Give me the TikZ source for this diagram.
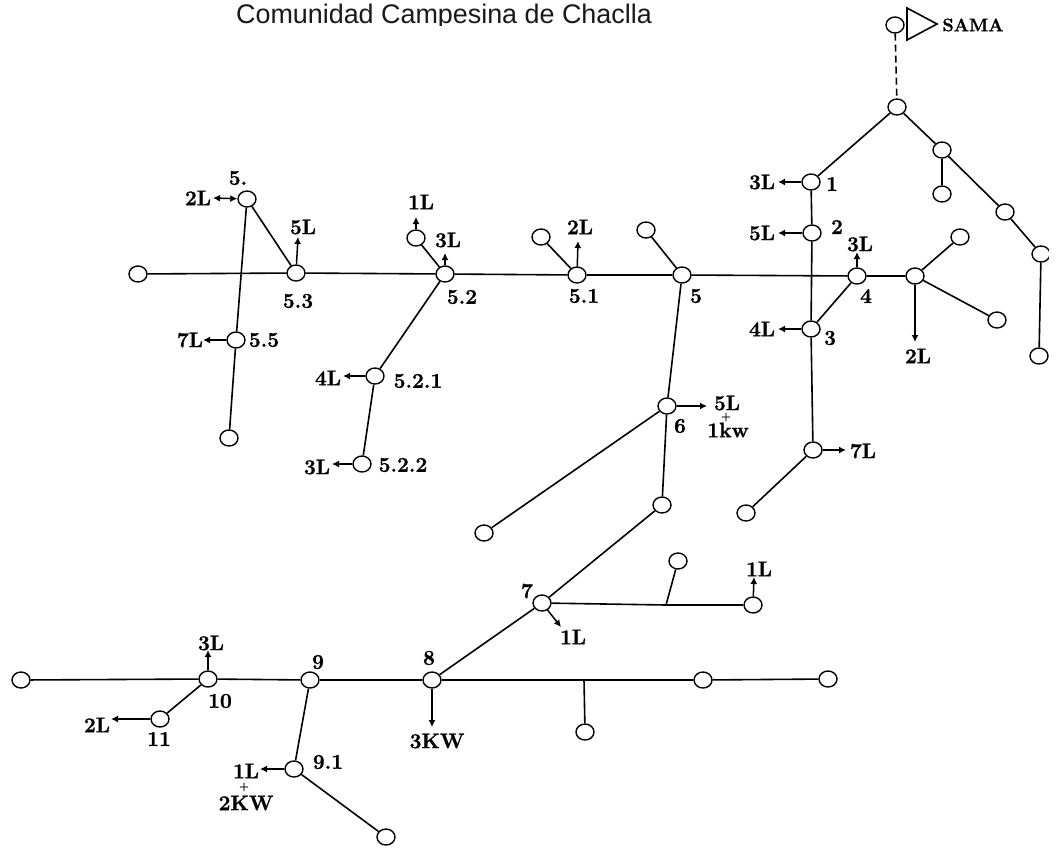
\documentclass[tikz,border=0pt]{standalone}
\usepackage{fontspec}
\setmainfont[BoldFeatures={FakeBold=1.2}]{Latin Modern Roman}
\newfontfamily\titlefont{Liberation Sans}
\usetikzlibrary{arrows.meta,shapes.geometric}
\tikzset{
  bus/.style={ellipse,draw,fill=white,inner sep=0pt,minimum width=18pt,minimum height=16pt,line width=1.4pt},
  tag/.style={inner sep=0pt,font=\fontsize{21}{23}\selectfont\bfseries},
  plus/.style={inner sep=0pt,font=\fontsize{11}{12}\selectfont\bfseries},
  load/.style={-{Latex[length=7pt,width=7pt]},line width=1.5pt}
}

\begin{document}
\begin{tikzpicture}[x=1pt,y=-1pt,line width=1.6pt]
  \useasboundingbox (0,0) rectangle (1062,847);
  \node[inner sep=0pt,font=\titlefont\fontsize{26.9}{30}\selectfont,text=black!90] (title) at (444,17) {Comunidad Campesina de Chaclla};
  \fill[white] (230,25.5) rectangle (660,34);
  % fuente
  \node[bus] (src) at (895,25) {};
  \draw (907,8) -- (937,24) -- (907,40) -- cycle;
  \node[tag,font=\fontsize{18}{20}\selectfont\bfseries] (sama) at (973,25) {SAMA};
  % nudos
  \foreach \name/\x/\y in {top/897/107,a1/811/182,a2/812/233,a3/811/329,a4/857/276,a7/813/450,a7l/746/513,
    fork/915/276,forka/960/237,forkb/997/320,b1/942/150,b1l/942/194,b2/1005/212,b3/1041/254,b3l/1039/356,
    n5/682/275,n5l/646/230,n51/577/275,n51l/541/237,n52/445/274,n52l/416/238,n521/375/376,n522/362/464,
    n53/296/273,end5/138/274,n5t/247/199,n55/236/340,n55l/229/438,
    n6/667/406,n6l/484/533,n6b/662/505,n7/542/603,n7e/753/605,n7l/678/561,
    n8/432/680,e8a/703/680,e8b/828/679,j8l/585/732,n9/310/680,n10/208/679,end10/21/680,n11/160/719,n91/294/769,n91l/386/837}
    \node[bus] (\name) at (\x,\y) {};
  \coordinate (j7) at (666,605);
  \coordinate (j8) at (584,680);
  % lineas
  \draw[dash pattern=on 7pt off 4pt] (src) -- (top);
  \foreach \a/\b in {top/a1,top/b1,b1/b1l,b1/b2,b2/b3,b3/b3l,a1/a2,a2/a3,a3/a7,a7/a7l,a3/a4,a4/n5,a4/fork,fork/forka,fork/forkb,
    n5/n5l,n5/n51,n51/n51l,n51/n52,n52/n52l,n52/n53,n53/end5,n52/n521,n521/n522,n53/n5t,n5t/n55,n55/n55l,
    n5/n6,n6/n6l,n6/n6b,n6b/n7,n7/n8,n7/j7,j7/n7e,j7/n7l,n8/n9,n9/n10,n10/end10,n10/n11,n9/n91,n91/n91l,
    n8/j8,j8/e8a,e8a/e8b,j8/j8l}
    \draw (\a) -- (\b);
  % cargas
  \foreach \a/\x/\y in {a1/778/182,a2/778/233,a3/778/329,a4/857/252,fork/915/342,a7/846/450,
    n53/298/237,n52l/416/217,n52/445/253,n51/578/241,n55/203/340,n521/343/376,n522/332/464,
    n6/707/406,n7e/754/577,n7/561/627,n8/432/727,n10/208/650,n11/111/719,n91/260/769} {
    \coordinate (\a tip) at (\x,\y);
    \draw[load] (\a) -- (\a tip);
  }
  \coordinate (n5ttip) at (213,198);
  \draw[load,{Latex[length=7pt,width=7pt]}-{Latex[length=7pt,width=7pt]}] (n5t) -- (n5ttip);
  % rotulos
  \foreach \name/\x/\y/\txt in {la1/762/182/3L,la2/762/233/5L,la3/762/329/4L,la4/860/244/3L,lfork/918/356/2L,la7/863/451/7L,
    ln5t/198/198/2L,ln53/303/227/5L,ln52l/421/202/1L,ln52/448/240/3L,ln51/580/227/2L,ln55/190/340/7L,ln521/328/378/4L,ln522/317/467/3L,
    ln6/727/403/5L,ln6k/728/430/1kw,ln7e/759/569/1L,ln7/573/637/1L,ln8/437/741/3KW,ln10/211/643/3L,ln11/97/725/2L,
    ln91/246/771/1L,ln91k/246/803/2KW,
    ta1/832/184/1,ta2/837/227/2,ta3/830/338/3,ta4/866/296/4,tn5t/238/178/5.,tn53/298/301/5.3,tn52/462/297/5.2,tn51/584/296/5.1,tn5/696/296/5,
    tn55/264/340/5.5,tn521/418/381/5.2.1,tn522/403/465/5.2.2,tn6/680/426/6,tn7/527/591/7,tn8/429/658/8,tn9/318/662/9,tn10/220/701/10,tn11/159/739/11,tn91/328/762/9.1}
    \node[tag] (\name) at (\x,\y) {\txt};
  \node[plus] (ln6p) at (726,417) {+};
  \node[plus] (ln91p) at (244,787) {+};
  \fill[white] (1049,0) rectangle (1062,847);
\end{tikzpicture}
\end{document}
